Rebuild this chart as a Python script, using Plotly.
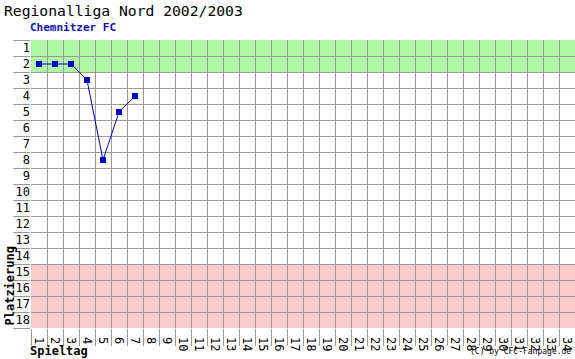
import plotly.graph_objects as go

# Data
spieltage = [1, 2, 3, 4, 5, 6, 7]
platzierung = [2, 2, 2, 3, 8, 5, 4]
n_spieltage = 34
n_teams = 18
aufstieg = [1, 2]          # green zone places
abstieg = [15, 16, 17, 18]  # red zone places

title_text = "Regionalliga Nord 2002/2003"
team_text = "Chemnitzer FC"
x_title = "Spieltag"
y_title = "Platzierung"
credit = "(C) by CFC-Fanpage.de"

grid_col = "#999999"
green = "#adf7a5"
pink = "#ffcccc"
line_col = "#0000c8"
mono = "DejaVu Sans Mono"

fig = go.Figure()
fig.add_trace(go.Scatter(
    x=spieltage, y=platzierung, mode="lines+markers",
    line=dict(color=line_col, width=1),
    marker=dict(symbol="square", size=6, color=line_col),
    hoverinfo="skip", showlegend=False,
))

fig.add_shape(type="rect", xref="x", yref="y", x0=0.5, x1=n_spieltage + 0.5,
              y0=min(aufstieg) - 0.5, y1=max(aufstieg) + 0.5,
              fillcolor=green, line_width=0, layer="below")
fig.add_shape(type="rect", xref="x", yref="y", x0=0.5, x1=n_spieltage + 0.5,
              y0=min(abstieg) - 0.5, y1=max(abstieg) + 0.5,
              fillcolor=pink, line_width=0, layer="below")

fig.update_xaxes(
    range=[0.5, n_spieltage + 0.5],
    tickmode="array", tickvals=list(range(1, n_spieltage + 1)),
    ticktext=[str(i) for i in range(1, n_spieltage + 1)],
    ticks="", showgrid=False, zeroline=False, showline=False,
    ticklabelshift=2, ticklabelstandoff=2,
    tickfont=dict(family=mono, size=12, color="#000000"),
    minor=dict(tickmode="linear", tick0=0.5, dtick=1, showgrid=True,
               gridcolor=grid_col, gridwidth=1, ticks="outside",
               ticklen=17, tickcolor=grid_col, tickwidth=1),
    fixedrange=True,
)
fig.update_yaxes(
    range=[n_teams + 0.5, 0.5],
    tickmode="array", tickvals=list(range(1, n_teams + 1)),
    ticktext=[str(i) for i in range(1, n_teams + 1)],
    ticks="", showgrid=False, zeroline=False, showline=False,
    tickfont=dict(family=mono, size=12, color="#000000"),
    minor=dict(tickmode="linear", tick0=0.5, dtick=1, showgrid=True,
               gridcolor=grid_col, gridwidth=1, ticks="outside",
               ticklen=17, tickcolor=grid_col, tickwidth=1),
    fixedrange=True,
)

fig.add_annotation(text=title_text, xref="paper", yref="paper", x=-31 / 544, y=1 + 40 / 288,
                   xanchor="left", yanchor="top", showarrow=False, xshift=2, yshift=0,
                   font=dict(family=mono, size=14.7, color="#000000"))
fig.add_annotation(text="<b>" + team_text + "</b>", xref="paper", yref="paper", x=0, y=1 + 21 / 288,
                   xanchor="left", yanchor="top", showarrow=False, xshift=-3,
                   font=dict(family=mono, size=11, color="#1414b4"))
fig.add_annotation(text="<b>" + y_title + "</b>", xref="paper", yref="paper", x=-31 / 544, y=0,
                   xanchor="left", yanchor="bottom", textangle=-90, showarrow=False,
                   font=dict(family=mono, size=12, color="#000000"))
fig.add_annotation(text="<b>" + x_title + "</b>", xref="paper", yref="paper", x=0, y=-31 / 288,
                   xanchor="left", yanchor="bottom", showarrow=False, yshift=-1, xshift=-3,
                   font=dict(family=mono, size=12, color="#000000"))
fig.add_annotation(text=credit, xref="paper", yref="paper", x=1, y=-31 / 288,
                   xanchor="right", yanchor="bottom", showarrow=False, xshift=-2, yshift=1,
                   font=dict(family=mono, size=8, color="#000000"))

fig.update_layout(
    width=575, height=359,
    margin=dict(l=31, r=0, t=40, b=31, pad=0),
    plot_bgcolor="#ffffff", paper_bgcolor="#ffffff",
    showlegend=False,
)

fig.write_html("out.html", config={"displayModeBar": False})
